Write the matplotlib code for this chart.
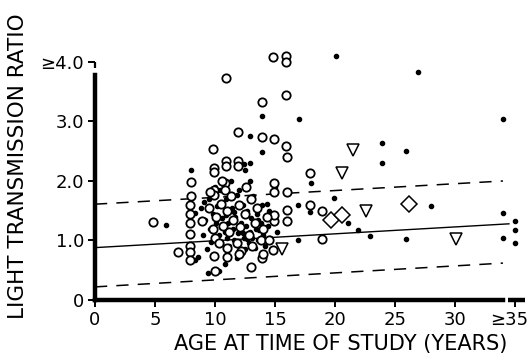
import matplotlib
matplotlib.use("Agg")
import matplotlib.pyplot as plt
import matplotlib.transforms as mtransforms

# ---- data (age in years, light transmission ratio) ----
circle_age = [14.8, 15.9, 15.9, 10.9, 15.9, 13.9, 11.9, 13.9, 14.9, 15.9, 16.0, 9.86,
              10.9, 10.9, 11.9, 11.9, 9.9, 9.9, 14.9, 14.9, 16.0, 10.8, 10.8, 9.9, 9.9,
              8.0, 4.8, 6.9, 7.9, 7.9, 7.9, 7.9, 7.9, 7.9, 7.9, 8.9, 9.9, 10.0, 13.0,
              13.9, 16.0, 16.0, 14.9, 14.9, 14.8, 17.9, 17.9, 18.9, 18.9,
              9.5, 9.8, 10.0, 10.1, 10.3, 10.5, 10.7, 11.0, 11.0, 11.2, 11.3, 11.5,
              11.8, 12.0, 12.1, 12.2, 12.5, 12.8, 13.0, 13.1, 13.3, 13.5, 13.8, 14.0,
              14.0, 14.3, 11.0, 12.0, 9.6, 12.6, 10.6, 14.5, 8.0]
circle_val = [4.09, 4.10, 4.00, 3.73, 3.45, 3.33, 2.83, 2.74, 2.70, 2.59, 2.41, 2.54,
              2.34, 2.26, 2.34, 2.26, 2.22, 2.15, 1.96, 1.82, 1.82, 1.96, 1.85, 1.85, 1.76,
              1.98, 1.31, 0.81, 1.60, 1.44, 1.29, 1.11, 0.90, 0.81, 0.68, 1.32, 0.74, 0.48, 0.55,
              0.70, 1.32, 1.51, 1.32, 1.43, 0.84, 2.13, 1.60, 1.50, 1.02,
              1.55, 1.20, 1.05, 1.40, 0.95, 1.62, 1.25, 1.50, 0.88, 1.15, 1.75, 1.35,
              0.95, 1.60, 1.22, 0.82, 1.45, 1.10, 1.70, 0.90, 1.30, 1.55, 1.00, 1.20,
              0.78, 1.40, 0.72, 0.78, 1.82, 1.90, 2.00, 1.00, 1.75]

dot_age = [20.06, 26.9, 17.0, 34.0, 23.9, 25.9, 23.9, 18.0, 19.9, 16.9, 17.9, 21.1,
           28.0, 34.0, 35.0, 35.0, 35.0, 34.0, 21.9, 22.9, 25.9, 16.9, 13.9, 12.9,
           13.9, 12.4, 12.9, 12.5, 12.9, 11.8, 8.0, 5.9, 8.3, 8.3, 9.4, 10.3,
           8.8, 9.0, 9.2, 9.3, 9.5, 9.6, 9.8, 9.9, 10.1, 10.2, 10.3, 10.4, 10.5, 10.6,
           10.8, 10.9, 11.0, 11.1, 11.2, 11.4, 11.5, 11.6, 11.7, 11.9, 12.0, 12.0, 12.2,
           12.3, 12.4, 12.5, 12.6, 12.7, 12.8, 12.9, 13.0, 13.1, 13.2, 13.3, 13.4, 13.5,
           13.6, 13.8, 13.9, 14.0, 14.2, 14.4, 14.5, 14.6, 15.0, 15.2, 10.0, 11.3, 9.1,
           8.6, 10.8, 11.8, 10.5, 11.6, 12.3, 13.6, 9.7, 10.9, 12.7, 13.7, 14.3]
dot_val = [4.10, 3.84, 3.05, 3.04, 2.64, 2.51, 2.30, 1.97, 1.72, 1.60, 1.48, 1.30,
           1.58, 1.47, 1.33, 1.18, 0.95, 1.04, 1.18, 1.08, 1.02, 1.00, 3.10, 2.76,
           2.48, 2.28, 2.30, 2.18, 2.00, 1.76, 2.18, 1.26, 0.67, 1.46, 0.45, 0.48,
           1.55, 1.10, 1.35, 0.85, 1.70, 1.20, 1.45, 1.00, 1.30, 1.58, 1.10, 1.85, 0.95, 1.38,
           1.15, 1.70, 1.05, 1.30, 0.90, 1.55, 1.20, 1.00, 1.40, 1.12, 1.85, 0.97, 1.30,
           1.60, 1.05, 0.85, 1.25, 1.50, 0.95, 1.15, 1.38, 1.05, 1.75, 0.88, 1.20, 1.45,
           1.00, 1.30, 1.60, 1.10, 0.90, 1.25, 1.50, 1.05, 1.90, 1.15, 1.90, 2.00, 1.65,
           0.72, 0.60, 0.70, 1.22, 1.48, 1.12, 1.35, 0.98, 1.42, 1.02, 1.18, 1.62]

tri_age = [21.5, 20.6, 22.6, 30.1, 15.6]
tri_val = [2.52, 2.14, 1.50, 1.02, 0.86]

dia_age = [19.7, 20.6, 26.2]
dia_val = [1.34, 1.42, 1.61]

fit_age = [0.0, 34.5]
fit_val = [0.88, 1.28]
upper_age = [0.0, 34.0]
upper_val = [1.61, 2.00]
lower_age = [0.0, 34.0]
lower_val = [0.22, 0.62]

xticks = [0, 5, 10, 15, 20, 25, 30, 35]
xticklabels = ["0", "5", "10", "15", "20", "25", "30", "\u226535"]
yticks = [0, 1, 2, 3, 4]
yticklabels = ["0", "1.0", "2.0", "3.0", "\u22654.0"]

# ---- figure ----
fig = plt.figure(figsize=(5.31, 3.57), dpi=100)
ax = fig.add_axes([0.1789, 0.1597, 0.818, 0.70])
ax.set_xlim(0, 36.2)
ax.set_ylim(0, 4.2)

ax.plot(fit_age, fit_val, color="black", lw=1.0)
ax.plot(upper_age, upper_val, color="black", lw=1.1, linestyle=(0, (8, 6)))
ax.plot(lower_age, lower_val, color="black", lw=1.1, linestyle=(0, (8, 6)))

ax.plot(dot_age, dot_val, "o", color="black", ms=3.0, ls="none", clip_on=False)
ax.plot(circle_age, circle_val, "o", mfc="white", mec="black", mew=1.3, ms=6,
        ls="none", clip_on=False)
ax.plot(tri_age, tri_val, "v", mfc="white", mec="black", mew=1.1, ms=9, ls="none")
ax.plot(dia_age, dia_val, "D", mfc="white", mec="black", mew=1.1, ms=8, ls="none")

for s in ["top", "right"]:
    ax.spines[s].set_visible(False)
ax.spines["left"].set_linewidth(3.2)
ax.spines["bottom"].set_linewidth(3.2)
ax.spines["left"].set_bounds(0, 3.78)
ax.spines["bottom"].set_bounds(0, 34.0)
# axis break pieces
ax.plot([34.4, 35.8], [0, 0], color="black", lw=3.2, clip_on=False, solid_capstyle="butt")
ax.plot([0, 0], [3.9, 4.0], color="black", lw=1.6, clip_on=False, solid_capstyle="butt")

ax.set_xticks(xticks)
ax.set_xticklabels(xticklabels)
ax.set_yticks(yticks)
ax.set_yticklabels(yticklabels)
ax.tick_params(axis="both", direction="out", length=5, width=1.4, labelsize=13,
               colors="black", pad=3)

last = ax.get_xticklabels()[-1]
last.set_horizontalalignment("right")
last.set_transform(last.get_transform() +
                   mtransforms.ScaledTranslation(0.13, 0, fig.dpi_scale_trans))

ax.set_xlabel("AGE AT TIME OF STUDY (YEARS)", fontsize=15, labelpad=0)
ax.xaxis.set_label_coords(0.565, -0.135)
fig.text(0.034, 0.535, "LIGHT TRANSMISSION RATIO", rotation=90, fontsize=15.5,
         ha="center", va="center")

fig.savefig("out.png", dpi=100, facecolor="white")
